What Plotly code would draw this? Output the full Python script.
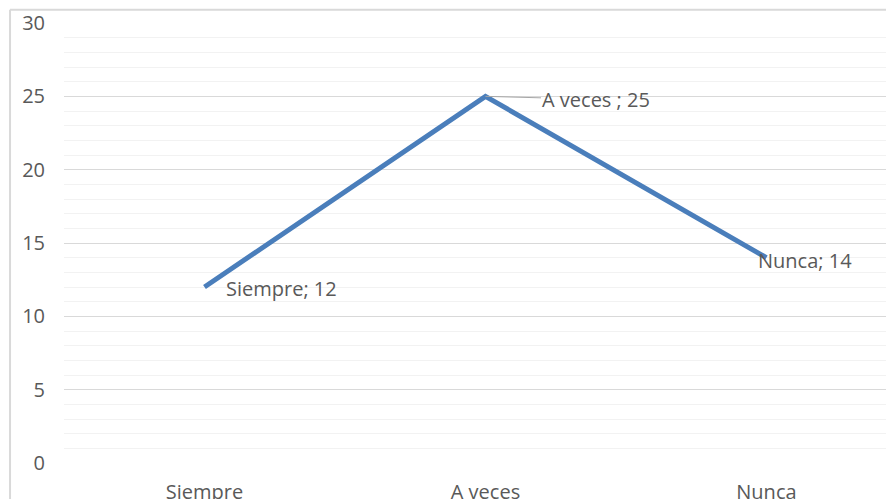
import plotly.graph_objects as go

categories = ["Siempre", "A veces", "Nunca"]
values = [12, 25, 14]
label_texts = ["Siempre; 12", "A veces ; 25", "Nunca; 14"]

LINE_COLOR = "#4a7ebb"
TEXT_COLOR = "#595959"
FONT = "Open Sans"
FS = 20

fig = go.Figure(
    go.Scatter(
        x=categories,
        y=values,
        mode="lines",
        line=dict(color=LINE_COLOR, width=5),
        hoverinfo="skip",
    )
)

# data labels, positioned like Excel's
fig.add_annotation(x=categories[0], y=values[0], text=label_texts[0],
                   showarrow=False, xanchor="left", xshift=20, yshift=-1)
fig.add_annotation(x=categories[1], y=values[1], text=label_texts[1],
                   showarrow=True, arrowhead=0, arrowwidth=1, arrowcolor="#a6a6a6",
                   ax=111, ay=3, standoff=0, startstandoff=0)
fig.add_annotation(x=categories[2], y=values[2], text=label_texts[2],
                   showarrow=False, xanchor="left", xshift=-10, yshift=-3)

# chart-area border (only left and top are visible in the crop)
fig.add_shape(type="line", xref="paper", yref="paper",
              x0=-0.065, x1=-0.065, y0=-0.3, y1=1.03,
              line=dict(color="#d9d9d9", width=2))
fig.add_shape(type="line", xref="paper", yref="paper",
              x0=-0.065, x1=1.2, y0=1.03, y1=1.03,
              line=dict(color="#d9d9d9", width=2))

# the page body adds an 8px offset, so the figure is sized to match the crop
fig.update_layout(
    width=886,
    height=491,
    margin=dict(l=56, r=0, t=15, b=36, autoexpand=False),
    paper_bgcolor="white",
    plot_bgcolor="white",
    showlegend=False,
    font=dict(family=FONT, size=FS, color=TEXT_COLOR),
)
fig.update_xaxes(
    range=[-0.5, 2.454],
    automargin=False,
    showgrid=False,
    showline=False,
    zeroline=False,
    ticks="",
    ticklabelstandoff=15,
    tickfont=dict(size=FS, color=TEXT_COLOR),
)
fig.update_yaxes(
    range=[0, 30],
    automargin=False,
    dtick=5,
    showgrid=True,
    gridcolor="#d9d9d9",
    gridwidth=1,
    minor=dict(dtick=1, showgrid=True, gridcolor="#f2f2f2", gridwidth=1),
    zeroline=False,
    showline=False,
    ticks="",
    ticklabelstandoff=18,
    tickfont=dict(size=FS, color=TEXT_COLOR),
)

fig.write_html("out.html")
